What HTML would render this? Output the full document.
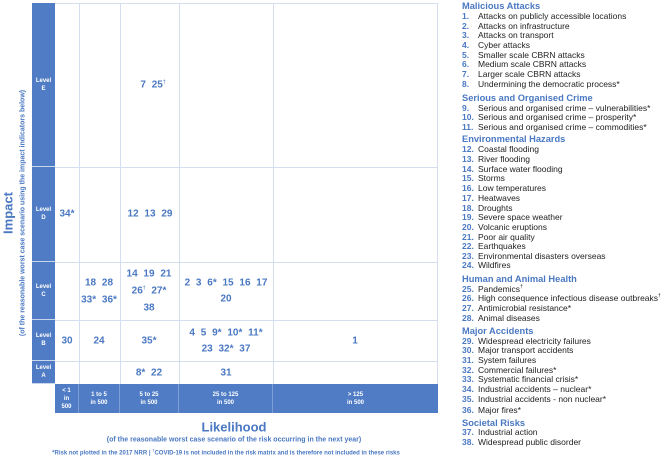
<!DOCTYPE html>
<html><head><meta charset="utf-8">
<style>
*{margin:0;padding:0;box-sizing:border-box}
body{width:670px;height:460px;background:#fff;position:relative;overflow:hidden;font-family:"Liberation Sans",Arial,sans-serif}
.a{position:absolute;white-space:nowrap}
.c{transform:translate(-50%,-50%);text-align:center}
.n{color:#4a78c2;font-weight:bold;font-size:10px;word-spacing:3px}
.lv{position:absolute;left:32px;width:23px;background:#4f7cc4;border-bottom:1px solid #c9d6ec;color:#fff;font-weight:bold;font-size:6px;text-align:center;display:flex;align-items:center;justify-content:center;line-height:8px}
.vl{position:absolute;top:3px;height:381px;width:1px;background:#d4deef}
.hl{position:absolute;left:55px;width:383px;height:1px;background:#d4deef}
.bl{position:absolute;top:384px;height:29px;background:#4f7cc4;color:#fff;font-weight:bold;font-size:6px;text-align:center;display:flex;align-items:center;justify-content:center;line-height:8px;border-right:1px solid #7c9fd6}
.h{position:absolute;left:462px;color:#4a78c2;font-weight:bold;font-size:9.3px;transform:translateY(-50%);white-space:nowrap}
.i{position:absolute;left:462px;font-size:8.5px;color:#222;transform:translateY(-50%);white-space:nowrap}
.i b{color:#4a78c2;display:inline-block;width:16px}
</style></head><body>
<div class="vl" style="left:79px"></div>
<div class="vl" style="left:120px"></div>
<div class="vl" style="left:179px"></div>
<div class="vl" style="left:273px"></div>
<div class="vl" style="left:437px"></div>
<div class="hl" style="top:3px"></div>
<div class="hl" style="top:167px"></div>
<div class="hl" style="top:262px"></div>
<div class="hl" style="top:320px"></div>
<div class="hl" style="top:361px"></div>
<div class="lv" style="top:3px;height:164px">Level<br>E</div>
<div class="lv" style="top:167px;height:95px">Level<br>D</div>
<div class="lv" style="top:262px;height:58px">Level<br>C</div>
<div class="lv" style="top:320px;height:41px">Level<br>B</div>
<div class="lv" style="top:361px;height:23px">Level<br>A</div>
<div class="bl" style="left:55px;width:24px">&lt; 1<br>in<br>500</div>
<div class="bl" style="left:79px;width:41px">1 to 5<br>in 500</div>
<div class="bl" style="left:120px;width:59px">5 to 25<br>in 500</div>
<div class="bl" style="left:179px;width:94px">25 to 125<br>in 500</div>
<div class="bl" style="left:273px;width:165px;border-right:none">&gt; 125<br>in 500</div>
<div class="a c n" style="left:153px;top:85px">7 25<sup style="font-size:5px">†</sup></div>
<div class="a c n" style="left:67px;top:214px">34*</div>
<div class="a c n" style="left:150px;top:214px">12 13 29</div>
<div class="a c n" style="left:99px;top:283px">18 28</div>
<div class="a c n" style="left:99px;top:300px">33* 36*</div>
<div class="a c n" style="left:149px;top:274px">14 19 21</div>
<div class="a c n" style="left:149px;top:291px">26<sup style="font-size:5px">†</sup> 27*</div>
<div class="a c n" style="left:149px;top:308px">38</div>
<div class="a c n" style="left:226px;top:283px">2 3 6* 15 16 17</div>
<div class="a c n" style="left:226px;top:299px">20</div>
<div class="a c n" style="left:67px;top:341px">30</div>
<div class="a c n" style="left:99px;top:341px">24</div>
<div class="a c n" style="left:149px;top:341px">35*</div>
<div class="a c n" style="left:226px;top:333px">4 5 9* 10* 11*</div>
<div class="a c n" style="left:226px;top:349px">23 32* 37</div>
<div class="a c n" style="left:355px;top:341px">1</div>
<div class="a c n" style="left:149px;top:373px">8* 22</div>
<div class="a c n" style="left:226px;top:373px">31</div>
<div class="a c" style="left:8px;top:213px;transform:translate(-50%,-50%) rotate(-90deg);color:#4a78c2;font-weight:bold;font-size:13px">Impact</div>
<div class="a c" style="left:23px;top:213px;transform:translate(-50%,-50%) rotate(-90deg);color:#4a78c2;font-weight:bold;font-size:7px">(of the reasonable worst case scenario using the impact indicators below)</div>
<div class="a c" style="left:234px;top:427px;color:#4a78c2;font-weight:bold;font-size:13px">Likelihood</div>
<div class="a c" style="left:234px;top:440px;color:#4a78c2;font-weight:bold;font-size:7px">(of the reasonable worst case scenario of the risk occurring in the next year)</div>
<div class="a c" style="left:226px;top:452px;color:#4a78c2;font-weight:bold;font-size:6px">*Risk not plotted in the 2017 NRR | <sup style="font-size:4px">†</sup>COVID-19 is not included in the risk matrix and is therefore not included in these risks</div>
<div class="h" style="top:6px">Malicious Attacks</div>
<div class="i" style="top:16px"><b>1.</b>Attacks on publicly accessible locations</div>
<div class="i" style="top:25.5px"><b>2.</b>Attacks on infrastructure</div>
<div class="i" style="top:35px"><b>3.</b>Attacks on transport</div>
<div class="i" style="top:45px"><b>4.</b>Cyber attacks</div>
<div class="i" style="top:54.5px"><b>5.</b>Smaller scale CBRN attacks</div>
<div class="i" style="top:64px"><b>6.</b>Medium scale CBRN attacks</div>
<div class="i" style="top:74px"><b>7.</b>Larger scale CBRN attacks</div>
<div class="i" style="top:83.5px"><b>8.</b>Undermining the democratic process*</div>
<div class="h" style="top:97.5px">Serious and Organised Crime</div>
<div class="i" style="top:107.5px"><b>9.</b>Serious and organised crime – vulnerabilities*</div>
<div class="i" style="top:117px"><b>10.</b>Serious and organised crime – prosperity*</div>
<div class="i" style="top:126.5px"><b>11.</b>Serious and organised crime – commodities*</div>
<div class="h" style="top:139px">Environmental Hazards</div>
<div class="i" style="top:149px"><b>12.</b>Coastal flooding</div>
<div class="i" style="top:159px"><b>13.</b>River flooding</div>
<div class="i" style="top:168.5px"><b>14.</b>Surface water flooding</div>
<div class="i" style="top:178px"><b>15.</b>Storms</div>
<div class="i" style="top:188px"><b>16.</b>Low temperatures</div>
<div class="i" style="top:198px"><b>17.</b>Heatwaves</div>
<div class="i" style="top:207.5px"><b>18.</b>Droughts</div>
<div class="i" style="top:217px"><b>19.</b>Severe space weather</div>
<div class="i" style="top:227px"><b>20.</b>Volcanic eruptions</div>
<div class="i" style="top:236.5px"><b>21.</b>Poor air quality</div>
<div class="i" style="top:246px"><b>22.</b>Earthquakes</div>
<div class="i" style="top:255.5px"><b>23.</b>Environmental disasters overseas</div>
<div class="i" style="top:265px"><b>24.</b>Wildfires</div>
<div class="h" style="top:279px">Human and Animal Health</div>
<div class="i" style="top:288.5px"><b>25.</b>Pandemics<sup style="font-size:5px">†</sup></div>
<div class="i" style="top:298px"><b>26.</b>High consequence infectious disease outbreaks<sup style="font-size:5px">†</sup></div>
<div class="i" style="top:308px"><b>27.</b>Antimicrobial resistance*</div>
<div class="i" style="top:317.5px"><b>28.</b>Animal diseases</div>
<div class="h" style="top:330.5px">Major Accidents</div>
<div class="i" style="top:340.5px"><b>29.</b>Widespread electricity failures</div>
<div class="i" style="top:350px"><b>30.</b>Major transport accidents</div>
<div class="i" style="top:360px"><b>31.</b>System failures</div>
<div class="i" style="top:369.5px"><b>32.</b>Commercial failures*</div>
<div class="i" style="top:379px"><b>33.</b>Systematic financial crisis*</div>
<div class="i" style="top:389px"><b>34.</b>Industrial accidents – nuclear*</div>
<div class="i" style="top:398.5px"><b>35.</b>Industrial accidents - non nuclear*</div>
<div class="i" style="top:409.5px"><b>36.</b>Major fires*</div>
<div class="h" style="top:422.5px">Societal Risks</div>
<div class="i" style="top:432px"><b>37.</b>Industrial action</div>
<div class="i" style="top:442px"><b>38.</b>Widespread public disorder</div>
</body></html>
